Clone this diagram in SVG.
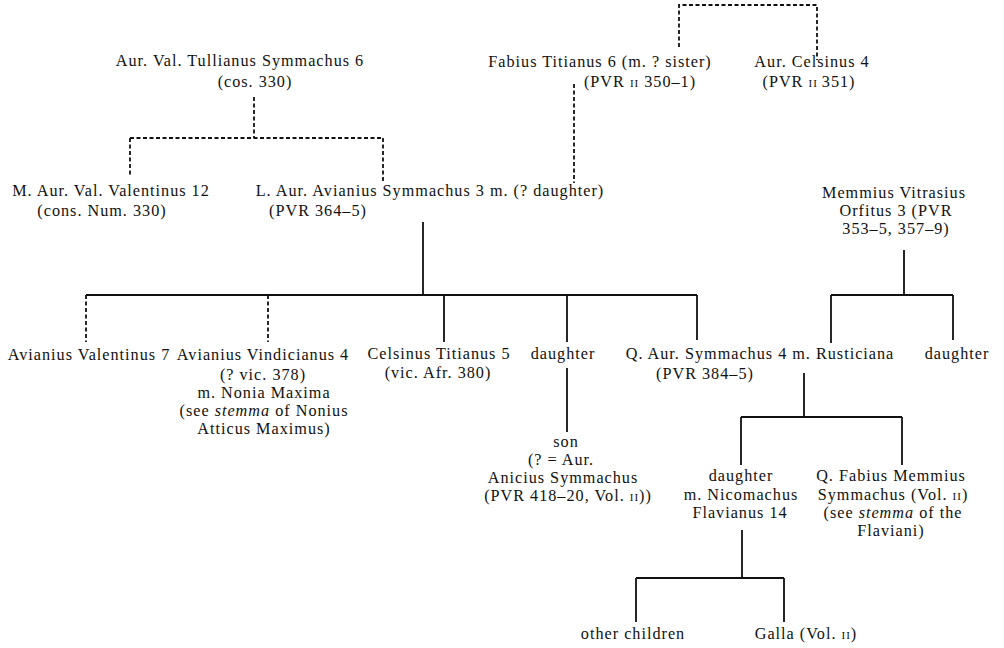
<svg xmlns="http://www.w3.org/2000/svg" width="1004" height="648" viewBox="0 0 1004 648">
<style>
.t { font-family: "Liberation Serif", "Times New Roman", serif; font-size: 16.2px; letter-spacing: 1px; fill: #111; text-anchor: middle; }
.sc { font-size: 11px; }
.it { font-style: italic; }
.solid { stroke: #111; stroke-width: 1.8; fill: none; }
.dash { stroke: #111; stroke-width: 1.8; fill: none; stroke-dasharray: 4 2.5; }
</style>
<rect width="1004" height="648" fill="#fff"/>
<g id="connectors">
  <path class="dash" d="M254,97 V138 M130,138 H383 M130,138 V177 M383,138 V183"/>
  <path class="dash" d="M574,84 V183"/>
  <path class="dash" d="M679,47 V5 H817 V60"/>
  <path class="solid" d="M423,222 V295 M86,295 H697 M444,295 V342 M567,295 V342 M697,295 V340"/>
  <path class="dash" d="M86,295 V342 M268,295 V342"/>
  <path class="solid" d="M567,368 V432"/>
  <path class="solid" d="M904,250 V295 M831,295 H953 M831,295 V343 M953,295 V340"/>
  <path class="solid" d="M804,373 V417 M741,417 H902 M741,417 V465 M902,417 V465"/>
  <path class="solid" d="M742,530 V578 M636,578 H784 M636,578 V622 M784,578 V622"/>
</g>
<g id="n_tullianus">
  <text class="t" x="240" y="66">Aur. Val. Tullianus Symmachus 6</text>
  <text class="t" x="255" y="87">(cos. 330)</text>
</g>
<g id="n_fabius_titianus">
  <text class="t" x="600" y="67">Fabius Titianus 6 (m. ? sister)</text>
  <text class="t" x="640" y="87">(PVR <tspan class="sc">II</tspan><tspan dx="5">350–1)</tspan></text>
</g>
<g id="n_celsinus4">
  <text class="t" x="812" y="67">Aur. Celsinus 4</text>
  <text class="t" x="809" y="87">(PVR <tspan class="sc">II</tspan><tspan dx="4">351)</tspan></text>
</g>
<g id="n_valentinus12">
  <text class="t" x="111" y="196">M. Aur. Val. Valentinus 12</text>
  <text class="t" x="102" y="216">(cons. Num. 330)</text>
</g>
<g id="n_symmachus3">
  <text class="t" x="430" y="196">L. Aur. Avianius Symmachus 3 m. (? daughter)</text>
  <text class="t" x="318" y="216">(PVR 364–5)</text>
</g>
<g id="n_orfitus">
  <text class="t" x="894" y="198">Memmius Vitrasius</text>
  <text class="t" x="896" y="216">Orfitus 3 (PVR</text>
  <text class="t" x="896" y="234">353–5, 357–9)</text>
</g>
<g id="n_valentinus7">
  <text class="t" x="89" y="360">Avianius Valentinus 7</text>
</g>
<g id="n_vindicianus">
  <text class="t" x="263" y="360">Avianius Vindicianus 4</text>
  <text class="t" x="263" y="380">(? vic. 378)</text>
  <text class="t" x="264" y="398">m. Nonia Maxima</text>
  <text class="t" x="264" y="416">(see <tspan class="it">stemma</tspan> of Nonius</text>
  <text class="t" x="264" y="434">Atticus Maximus)</text>
</g>
<g id="n_celsinus5">
  <text class="t" x="439" y="359">Celsinus Titianus 5</text>
  <text class="t" x="438" y="378">(vic. Afr. 380)</text>
</g>
<g id="n_daughter1">
  <text class="t" x="563" y="359">daughter</text>
</g>
<g id="n_son">
  <text class="t" x="566" y="447">son</text>
  <text class="t" x="561" y="465">(? = Aur.</text>
  <text class="t" x="563" y="483">Anicius Symmachus</text>
  <text class="t" x="568" y="501">(PVR 418–20, Vol. <tspan class="sc">II</tspan>))</text>
</g>
<g id="n_symmachus4">
  <text class="t" x="760" y="359">Q. Aur. Symmachus 4 m. Rusticiana</text>
  <text class="t" x="705" y="379">(PVR 384–5)</text>
</g>
<g id="n_daughter2">
  <text class="t" x="957" y="359">daughter</text>
</g>
<g id="n_daughter3">
  <text class="t" x="741" y="481">daughter</text>
  <text class="t" x="741" y="500">m. Nicomachus</text>
  <text class="t" x="740" y="518">Flavianus 14</text>
</g>
<g id="n_fabius_memmius">
  <text class="t" x="891" y="481">Q. Fabius Memmius</text>
  <text class="t" x="893" y="500">Symmachus (Vol. <tspan class="sc">II</tspan>)</text>
  <text class="t" x="893" y="518">(see <tspan class="it">stemma</tspan> of the</text>
  <text class="t" x="891" y="536">Flaviani)</text>
</g>
<g id="n_other_children">
  <text class="t" x="633" y="639">other children</text>
</g>
<g id="n_galla">
  <text class="t" x="806" y="639">Galla (Vol. <tspan class="sc">II</tspan>)</text>
</g>
</svg>
